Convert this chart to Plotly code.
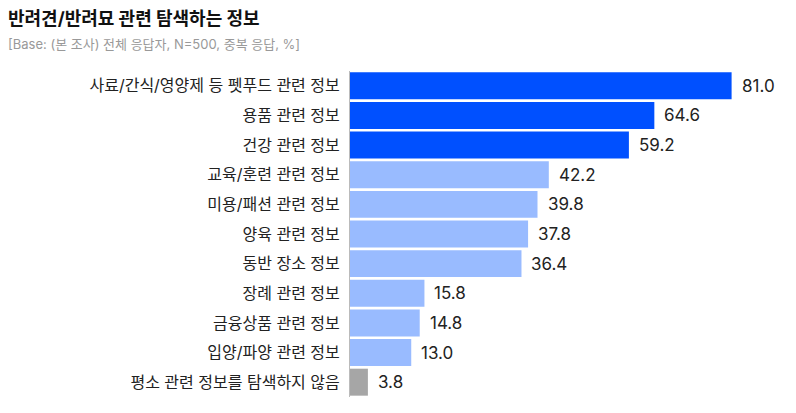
import plotly.graph_objects as go

categories = [
    "사료/간식/영양제 등 펫푸드 관련 정보",
    "용품 관련 정보",
    "건강 관련 정보",
    "교육/훈련 관련 정보",
    "미용/패션 관련 정보",
    "양육 관련 정보",
    "동반 장소 정보",
    "장례 관련 정보",
    "금융상품 관련 정보",
    "입양/파양 관련 정보",
    "평소 관련 정보를 탐색하지 않음",
]
values = [81.0, 64.6, 59.2, 42.2, 39.8, 37.8, 36.4, 15.8, 14.8, 13.0, 3.8]
groups = ["top", "top", "top", "mid", "mid", "mid", "mid", "mid", "mid", "mid", "none"]

title = "반려견/반려묘 관련 탐색하는 정보"
subtitle = "[Base: (본 조사) 전체 응답자, N=500, 중복 응답, %]"

palette = {"top": "#0050FF", "mid": "#99BBFF", "none": "#A6A6A6"}
FONT = "Inter, Noto Sans CJK KR"

# the page body adds an 8px offset, so margins are shifted by that
W, H = 796, 413
L, R, T, B = 342, 30, 63, 24
plot_w = W - L - R
plot_h = H - T - B

fig = go.Figure(
    go.Bar(
        x=values,
        y=categories,
        orientation="h",
        marker=dict(color=[palette[g] for g in groups], line=dict(width=0)),
        hoverinfo="x+y",
    )
)

# value labels just right of each bar
for cat, val in zip(categories, values):
    fig.add_annotation(
        x=val, y=cat, text=f"{val:.1f}", showarrow=False,
        xanchor="left", xshift=8,
        font=dict(family=FONT, size=17, color="#222222"),
    )

# title + base note, anchored to the left edge of the page
fig.add_annotation(
    text=f"<b>{title}</b>", xref="paper", yref="paper",
    x=(-2 - L) / plot_w, y=1 + (T - 10) / plot_h, xanchor="left", yanchor="middle",
    showarrow=False, font=dict(family=FONT, size=18, color="#111111"),
)
fig.add_annotation(
    text=subtitle, xref="paper", yref="paper",
    x=(-2 - L) / plot_w, y=1 + (T - 36) / plot_h, xanchor="left", yanchor="middle",
    showarrow=False, font=dict(family=FONT, size=13, color="#999999"),
)

fig.update_layout(
    width=W,
    height=H,
    margin=dict(l=L, r=R, t=T, b=B, autoexpand=False),
    paper_bgcolor="white",
    plot_bgcolor="white",
    bargap=0.09,
    showlegend=False,
    font=dict(family=FONT, size=16, color="#222222"),
)

fig.update_xaxes(range=[0, 90], visible=False, fixedrange=True)
fig.update_yaxes(
    autorange="reversed", automargin=False,
    showline=True, linecolor="#BBBBBB", linewidth=1,
    ticks="", ticklabelstandoff=6, showgrid=False,
    tickfont=dict(family=FONT, size=16, color="#222222"),
    fixedrange=True,
)

fig.write_html("out.html")
